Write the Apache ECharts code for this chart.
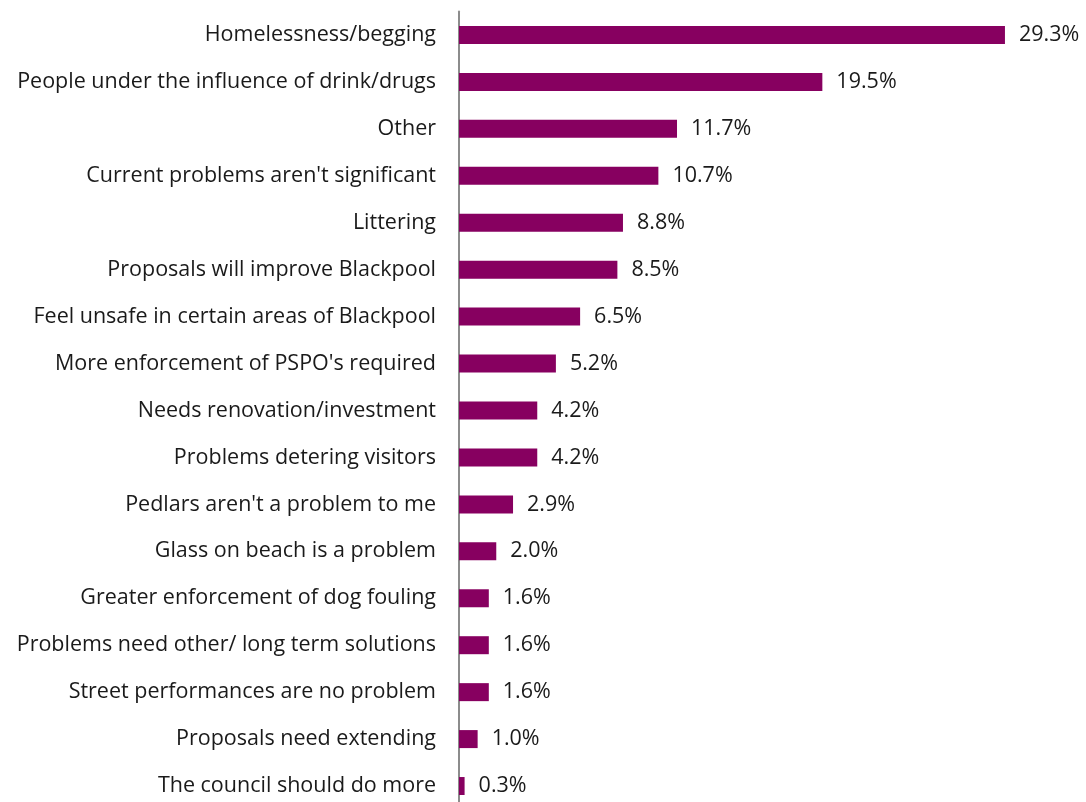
<!DOCTYPE html>
<html><head><meta charset="utf-8">
<script src="https://cdn.jsdelivr.net/npm/echarts@6/dist/echarts.min.js"></script>
<style>html,body{margin:0;padding:0;background:#fff}#c{width:1086px;height:802px}</style>
</head><body><div id="c"></div>
<script>
const categories = [
  "Homelessness/begging",
  "People under the influence of drink/drugs",
  "Other",
  "Current problems aren't significant",
  "Littering",
  "Proposals will improve Blackpool",
  "Feel unsafe in certain areas of Blackpool",
  "More enforcement of PSPO's required",
  "Needs renovation/investment",
  "Problems detering visitors",
  "Pedlars aren't a problem to me",
  "Glass on beach is a problem",
  "Greater enforcement of dog fouling",
  "Problems need other/ long term solutions",
  "Street performances are no problem",
  "Proposals need extending",
  "The council should do more"
];
const values = [29.3, 19.5, 11.7, 10.7, 8.8, 8.5, 6.5, 5.2, 4.2, 4.2, 2.9, 2.0, 1.6, 1.6, 1.6, 1.0, 0.3];

const chart = echarts.init(document.getElementById('c'), null, {renderer: 'canvas'});
chart.setOption({
  animation: false,
  grid: {left: 459, right: 68, top: 11.5, height: 798, containLabel: false, outerBoundsMode: 'none'},
  xAxis: {type: 'value', min: 0, max: 30, show: false},
  yAxis: {
    type: 'category', data: categories, inverse: true,
    axisLine: {show: true, lineStyle: {color: '#8c8c8c', width: 2}},
    axisTick: {show: false},
    axisLabel: {color: '#1a1a1a', fontSize: 21.5, fontFamily: 'Open Sans', margin: 23}
  },
  series: [{
    type: 'bar', data: values, barWidth: 18,
    itemStyle: {color: '#870060'},
    label: {show: true, position: 'right', distance: 14, formatter: p => p.value.toFixed(1) + '%', color: '#1a1a1a', fontSize: 21.5, fontFamily: 'Open Sans'}
  }]
});
</script></body></html>
